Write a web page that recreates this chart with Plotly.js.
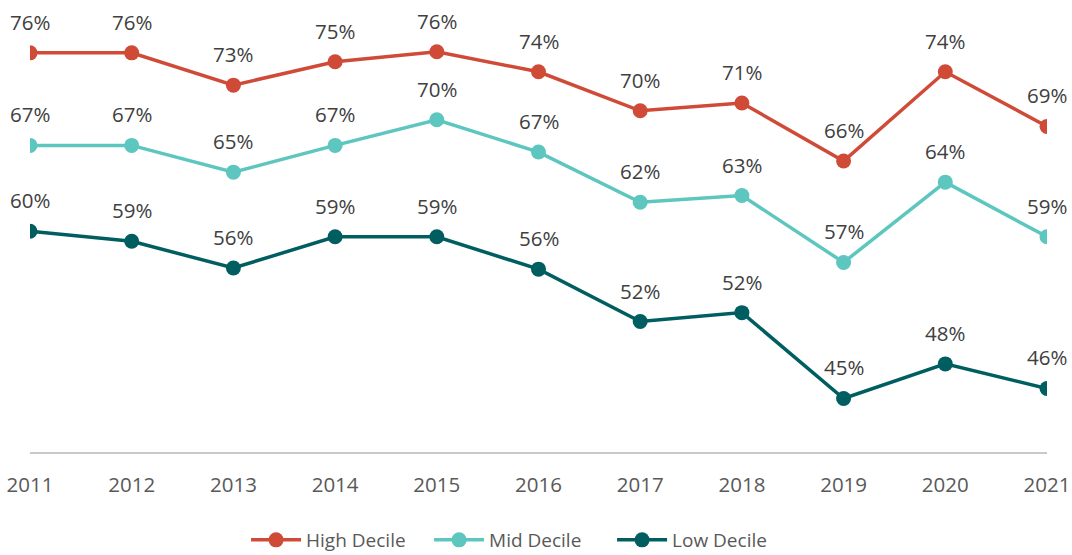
<!DOCTYPE html>
<html>
<head>
<meta charset="utf-8">
<script src="https://cdn.plot.ly/plotly-3.0.1.min.js"></script>
<style>html,body{margin:0;padding:0;background:#fff;}#chart{width:1072px;height:555px;}</style>
</head>
<body>
<div id="chart"></div>
<script>
const years = ['2011','2012','2013','2014','2015','2016','2017','2018','2019','2020','2021'];
const highDecile = [75.8, 75.8, 72.9, 75.0, 75.9, 74.1, 70.6, 71.3, 66.1, 74.1, 69.2];
const midDecile  = [67.5, 67.5, 65.1, 67.5, 69.8, 66.9, 62.4, 63.0, 57.0, 64.2, 59.3];
const lowDecile  = [59.8, 58.9, 56.5, 59.3, 59.3, 56.4, 51.7, 52.5, 44.8, 47.9, 45.7];
const highLabels = ['76%','76%','73%','75%','76%','74%','70%','71%','66%','74%','69%'];
const midLabels  = ['67%','67%','65%','67%','70%','67%','62%','63%','57%','64%','59%'];
const lowLabels  = ['60%','59%','56%','59%','59%','56%','52%','52%','45%','48%','46%'];

const seriesNames = ['High Decile','Mid Decile','Low Decile'];
const colors = ['#D04B37','#5DC6BE','#005E61'];
const values = [highDecile, midDecile, lowDecile];
const labels = [highLabels, midLabels, lowLabels];

const traces = values.map((v,i)=>({
  x: years, y: v, name: seriesNames[i], type:'scatter', mode:'lines+markers',
  line:{color:colors[i], width:3.5}, marker:{color:colors[i], size:15},
  hoverinfo:'skip'
}));

const annotations = [];
values.forEach((v,i)=>{
  v.forEach((val,j)=>{
    annotations.push({x: j, y: val, xref:'x', yref:'y', text: labels[i][j],
      showarrow:false, yshift:31, yanchor:'middle', xanchor:'center',
      font:{family:'Open Sans', size:20.5, color:'#404040'}});
  });
});

const layout = {
  width:1072, height:555,
  margin:{l:30, r:25, t:6, b:103, autoexpand:false},
  paper_bgcolor:'#fff', plot_bgcolor:'#fff',
  showlegend:true,
  legend:{orientation:'h', x:0.4856, xanchor:'center', xref:'container',
    y:0.027, yanchor:'middle', yref:'container', itemwidth:50, entrywidth:118,
    font:{family:'Open Sans', size:19, color:'#595959'}},
  xaxis:{type:'category', range:[0,10], showgrid:false, zeroline:false,
    showline:true, linecolor:'#C9C9C9', linewidth:1.5, ticks:'',
    ticklabelstandoff:14,
    tickfont:{family:'Open Sans', size:20.5, color:'#595959'}},
  yaxis:{range:[40,80], visible:false, showgrid:false, zeroline:false},
  annotations: annotations
};
Plotly.newPlot('chart', traces, layout, {displayModeBar:false, staticPlot:true});
</script>
</body>
</html>
